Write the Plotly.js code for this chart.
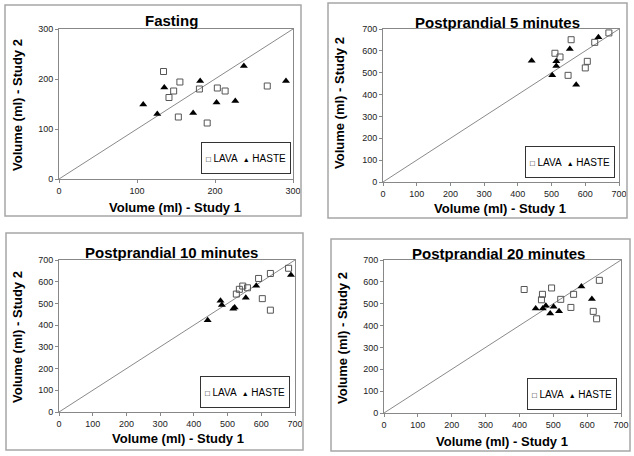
<!DOCTYPE html>
<html>
<head>
<meta charset="utf-8">
<script src="https://cdn.plot.ly/plotly-3.0.1.min.js"></script>
<style>
  html, body { margin: 0; padding: 0; background: #fff; }
  #chart { width: 634px; height: 456px; }
</style>
</head>
<body>
<div id="chart"></div>
<script>
// values (ml)
const fastingLavaX = [134, 155, 147, 141, 180, 203, 213, 267, 153, 190];
const fastingLavaY = [215, 194, 176, 163, 180, 182, 176, 186, 124, 112];
const fastingHasteX = [108, 126, 135, 181, 172, 202, 226, 237, 291];
const fastingHasteY = [149, 130, 183, 196, 132, 153, 156, 226, 196];

const pp5LavaX = [558, 510, 525, 549, 600, 606, 628, 670];
const pp5LavaY = [651, 589, 572, 488, 522, 552, 639, 682];
const pp5HasteX = [441, 502, 514, 514, 554, 573, 639];
const pp5HasteY = [555, 488, 552, 531, 608, 445, 662];

const pp10LavaX = [526, 535, 545, 559, 592, 627, 603, 627, 681];
const pp10LavaY = [543, 565, 580, 572, 615, 638, 522, 469, 662];
const pp10HasteX = [441, 479, 483, 517, 521, 554, 585, 688];
const pp10HasteY = [423, 512, 493, 475, 481, 526, 581, 631];

const pp20LavaX = [414, 468, 465, 495, 522, 560, 552, 636, 618, 628];
const pp20LavaY = [565, 543, 518, 572, 520, 543, 483, 607, 465, 431];
const pp20HasteX = [448, 469, 478, 491, 501, 517, 583, 614];
const pp20HasteY = [478, 478, 491, 455, 486, 465, 579, 521];

const panelTitles = ["Fasting", "Postprandial 5 minutes", "Postprandial 10 minutes", "Postprandial 20 minutes"];
const identityFasting = [0, 300];
const identityPost = [0, 700];
const seriesNames = ["LAVA", "HASTE"];

const W = 634, H = 456;
const FONT = 'Arial, "Liberation Sans", sans-serif';
const px = (x) => x / W;
const py = (y) => 1 - y / H;

// pixel boxes measured on the reference
const panels = [
  { lava: [fastingLavaX, fastingLavaY], haste: [fastingHasteX, fastingHasteY], diag: identityFasting,
    plot: [59, 293, 29, 179], frame: [5, 301, 5, 216], title: [171, 21], xt: [175, 207], yt: [17, 105], leg: [246, 158] },
  { lava: [pp5LavaX, pp5LavaY], haste: [pp5HasteX, pp5HasteY], diag: identityPost,
    plot: [383, 619, 29, 182], frame: [328, 627, 3, 218], title: [497, 22], xt: [500, 209], yt: [340, 103], leg: [570, 162] },
  { lava: [pp10LavaX, pp10LavaY], haste: [pp10HasteX, pp10HasteY], diag: identityPost,
    plot: [59, 295, 260, 412], frame: [6, 303, 233, 450], title: [171, 252], xt: [178, 438], yt: [17, 337], leg: [245, 392] },
  { lava: [pp20LavaX, pp20LavaY], haste: [pp20HasteX, pp20HasteY], diag: identityPost,
    plot: [384, 621, 260, 413], frame: [331, 630, 239, 451], title: [498, 253], xt: [502, 441], yt: [342, 338], leg: [572, 394] },
];

const traces = [];
const layout = {
  width: W,
  height: H,
  margin: { l: 0, r: 0, t: 0, b: 0 },
  paper_bgcolor: "#ffffff",
  plot_bgcolor: "#ffffff",
  showlegend: false,
  font: { family: FONT, color: "#000" },
  shapes: [],
  annotations: [],
};

panels.forEach((p, i) => {
  const n = i === 0 ? "" : String(i + 1);
  const xa = "x" + n, ya = "y" + n;

  traces.push({
    x: p.diag, y: p.diag, xaxis: xa, yaxis: ya,
    mode: "lines", type: "scatter", hoverinfo: "skip",
    line: { color: "#8a8a8a", width: 1 },
  });
  traces.push({
    x: p.lava[0], y: p.lava[1], xaxis: xa, yaxis: ya,
    mode: "markers", type: "scatter", name: seriesNames[0],
    marker: { symbol: "square-open", size: 6, color: "#555555", line: { width: 1 } },
  });
  traces.push({
    x: p.haste[0], y: p.haste[1], xaxis: xa, yaxis: ya,
    mode: "markers", type: "scatter", name: seriesNames[1],
    marker: { symbol: "triangle-up", size: 7, color: "#000000" },
  });

  const axisBase = {
    showline: true, mirror: true, linecolor: "#888888", linewidth: 1,
    showgrid: false, zeroline: false,
    ticks: "outside", ticklen: 3, tickcolor: "#888888",
    tickfont: { family: FONT, size: 9, color: "#222" },
    tickmode: "linear", tick0: 0, dtick: 100,
    fixedrange: true,
  };
  layout["xaxis" + n] = Object.assign({}, axisBase, {
    domain: [px(p.plot[0]), px(p.plot[1])],
    range: [p.diag[0], p.diag[1]],
    anchor: ya,
  });
  layout["yaxis" + n] = Object.assign({}, axisBase, {
    domain: [py(p.plot[3]), py(p.plot[2])],
    range: [p.diag[0], p.diag[1]],
    anchor: xa,
  });

  // outer frame of each panel
  layout.shapes.push({
    type: "rect", xref: "paper", yref: "paper",
    x0: px(p.frame[0]), x1: px(p.frame[1]), y0: py(p.frame[3]), y1: py(p.frame[2]),
    line: { color: "#a6a6a6", width: 1.5 },
  });

  layout.annotations.push({
    text: panelTitles[i], xref: "paper", yref: "paper", showarrow: false,
    x: px(p.title[0]), y: py(p.title[1]), xanchor: "center", yanchor: "middle",
    font: { family: FONT, size: 15, weight: "bold", color: "#000" },
  });
  layout.annotations.push({
    text: "Volume (ml) - Study 1", xref: "paper", yref: "paper", showarrow: false,
    x: px(p.xt[0]), y: py(p.xt[1]), xanchor: "center", yanchor: "middle",
    font: { family: FONT, size: 13, weight: "bold", color: "#000" },
  });
  layout.annotations.push({
    text: "Volume (ml) - Study 2", xref: "paper", yref: "paper", showarrow: false,
    x: px(p.yt[0]), y: py(p.yt[1]), xanchor: "center", yanchor: "middle", textangle: -90,
    font: { family: FONT, size: 13, weight: "bold", color: "#000" },
  });
  // legend box
  layout.annotations.push({
    text: '<span style="font-size:8px">□</span> ' + seriesNames[0] +
          '  <span style="font-size:7px">▲</span> ' + seriesNames[1],
    xref: "paper", yref: "paper", showarrow: false,
    x: px(p.leg[0]), y: py(p.leg[1]), xanchor: "center", yanchor: "middle",
    width: 88, height: 30, borderpad: 0, borderwidth: 1,
    bordercolor: "#333333", bgcolor: "#ffffff",
    font: { family: FONT, size: 10, color: "#000" },
  });
});

Plotly.newPlot("chart", traces, layout, { staticPlot: true });
</script>
</body>
</html>
